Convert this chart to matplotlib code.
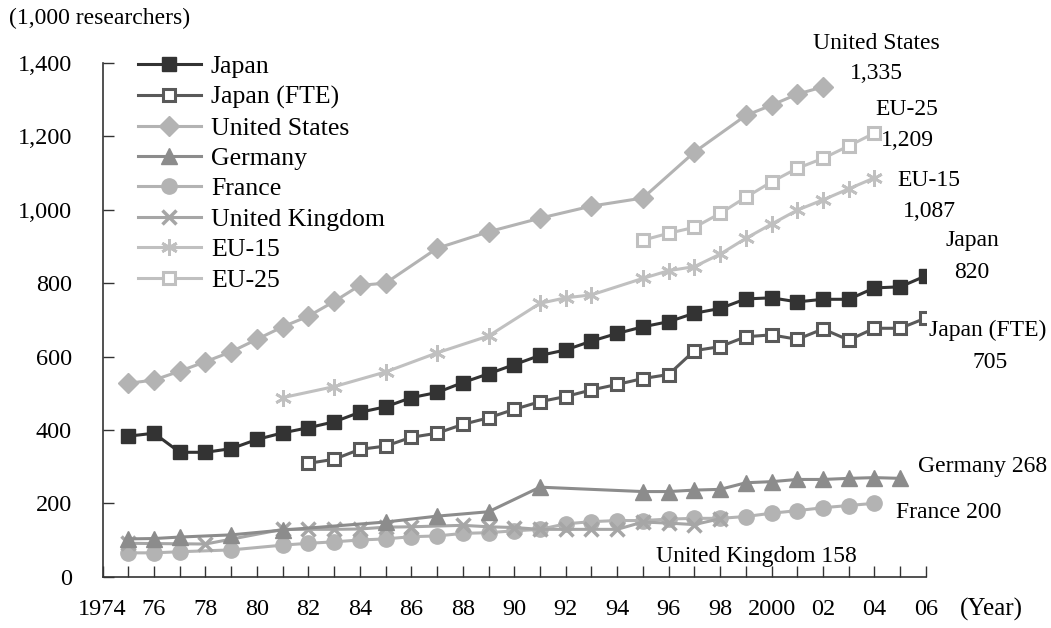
import matplotlib.pyplot as plt
import numpy as np

plt.rcParams['font.family'] = ['Liberation Serif', 'DejaVu Serif']

# data (1,000 researchers)
jp_years = list(range(1975, 2007))
jp = [383, 391, 339, 339, 349, 374, 392, 406, 422, 448, 463, 488, 502, 529, 553, 578,
      603, 618, 642, 663, 681, 695, 718, 731, 757, 760, 749, 756, 756, 787, 790, 820]

fte_years = list(range(1982, 2007))
fte = [309, 320, 347, 356, 380, 391, 415, 433, 456, 477, 491, 509, 524, 540, 551,
       616, 627, 654, 659, 647, 675, 645, 677, 677, 705]

us_years = [1975, 1976, 1977, 1978, 1979, 1980, 1981, 1982, 1983, 1984, 1985, 1987,
            1989, 1991, 1993, 1995, 1997, 1999, 2000, 2001, 2002]
us = [527, 536, 560, 586, 613, 647, 681, 710, 750, 794, 800, 895, 940, 977, 1010,
      1032, 1157, 1257, 1285, 1315, 1335]

de_years = [1975, 1976, 1977, 1979, 1981, 1985, 1987, 1989, 1991, 1995, 1996, 1997,
            1998, 1999, 2000, 2001, 2002, 2003, 2004, 2005]
de = [103, 104, 108, 114, 127, 149, 165, 177, 244, 232, 232, 236, 238, 256, 259,
      265, 265, 268, 270, 268]

fr_years = [1975, 1976, 1977, 1979] + list(range(1981, 2005))
fr = [65, 65, 68, 73, 86, 91, 95, 100, 103, 109, 111, 118, 120, 125, 129, 144, 150,
      153, 153, 157, 159, 159, 164, 173, 180, 188, 194, 200]

uk_years = [1975, 1978, 1981, 1982, 1983, 1984, 1985, 1986, 1988, 1989, 1990, 1991,
            1992, 1993, 1994, 1995, 1996, 1997, 1998]
uk = [91, 89, 129, 129, 129, 130, 135, 136, 140, 136, 134, 129, 129, 129, 129,
      149, 146, 142, 158]

eu15_years = [1981, 1983, 1985, 1987, 1989, 1991, 1992, 1993, 1995, 1996, 1997,
              1998, 1999, 2000, 2001, 2002, 2003, 2004]
eu15 = [488, 518, 558, 610, 656, 745, 760, 768, 813, 834, 845, 879, 922, 961,
        999, 1027, 1057, 1087]

eu25_years = list(range(1995, 2005))
eu25 = [917, 936, 952, 990, 1034, 1076, 1113, 1140, 1174, 1209]

fig = plt.figure(figsize=(10.51, 6.28), dpi=100)
ax = fig.add_axes([0.0976, 0.0817, 0.7834, 0.818])

lw = 2.2
ax.plot(jp_years, jp, color='#333333', lw=lw, marker='s', ms=10, label='Japan', zorder=9)
ax.plot(fte_years, fte, color='#595959', lw=lw, marker='s', ms=9, mfc='white',
        mec='#595959', mew=2.2, label='Japan (FTE)', zorder=8)
ax.plot(us_years, us, color='#b3b3b3', lw=lw, marker='D', ms=10, label='United States')
ax.plot(de_years, de, color='#8c8c8c', lw=lw, marker='^', ms=11, label='Germany', zorder=4)
ax.plot(fr_years, fr, color='#b3b3b3', lw=lw, marker='o', ms=11, label='France', zorder=3)
ax.plot(uk_years, uk, color='#a6a6a6', lw=lw, marker='x', ms=10, mew=2.5,
        label='United Kingdom', zorder=3)
ax.plot(eu15_years, eu15, color='#c0c0c0', lw=lw, marker=(6, 2, 0), ms=12, mew=2,
        label='EU-15')
ax.plot(eu25_years, eu25, color='#c0c0c0', lw=lw, marker='s', ms=9, mfc='white',
        mec='#c0c0c0', mew=2.2, label='EU-25')

ax.set_xlim(1974, 2006)
ax.set_ylim(0, 1400)
ax.set_xticks(range(1974, 2007))
labels = []
for y in range(1974, 2007):
    if y % 2:
        labels.append('')
    elif y in (1974, 2000):
        labels.append(str(y))
    else:
        labels.append('%02d' % (y % 100))
ax.set_xticklabels(labels)
ax.set_yticks(range(0, 1401, 200))
ax.set_yticklabels(['{:,}'.format(v) for v in range(0, 1401, 200)])
ax.tick_params(axis='both', direction='in', length=8, width=1, labelsize=17.5, color='#333333')
ax.tick_params(axis='x', pad=16)
ax.tick_params(axis='y', pad=22)
for s in ['top', 'right']:
    ax.spines[s].set_visible(False)
for s in ['left', 'bottom']:
    ax.spines[s].set_linewidth(1.2)
    ax.spines[s].set_color('#333333')

fig.text(0.009, 0.97, '(1,000 researchers)', fontsize=17, va='center', ha='left')
fig.text(0.943, 0.029, '(Year)', fontsize=18, va='center', ha='center')

ax.legend(loc='upper left', bbox_to_anchor=(0.03, 1.035), frameon=False, fontsize=18.5,
          handlelength=2.45, handletextpad=0.4, labelspacing=0.29, borderaxespad=0)

ann = [
    ('United States', 2004.06, 1454, 'center'), ('1,335', 2004.06, 1372, 'center'),
    ('EU-25', 2005.26, 1274, 'center'), ('1,209', 2005.3, 1190, 'center'),
    ('EU-15', 2006.1, 1081, 'center'), ('1,087', 2006.15, 994, 'center'),
    ('Japan', 2007.8, 917, 'center'), ('820', 2007.8, 830, 'center'),
    ('Japan (FTE)', 2010.7, 672, 'right'), ('705', 2008.5, 583, 'center'),
    ('Germany 268', 2010.7, 299, 'right'),
    ('France 200', 2006.9, 174, 'center'),
    ('United Kingdom 158', 1999.4, 56, 'center'),
]
for txt, x, y, ha in ann:
    ax.text(x, y, txt, fontsize=17, ha=ha, va='center', clip_on=False)

fig.savefig('out.png', dpi=100)
